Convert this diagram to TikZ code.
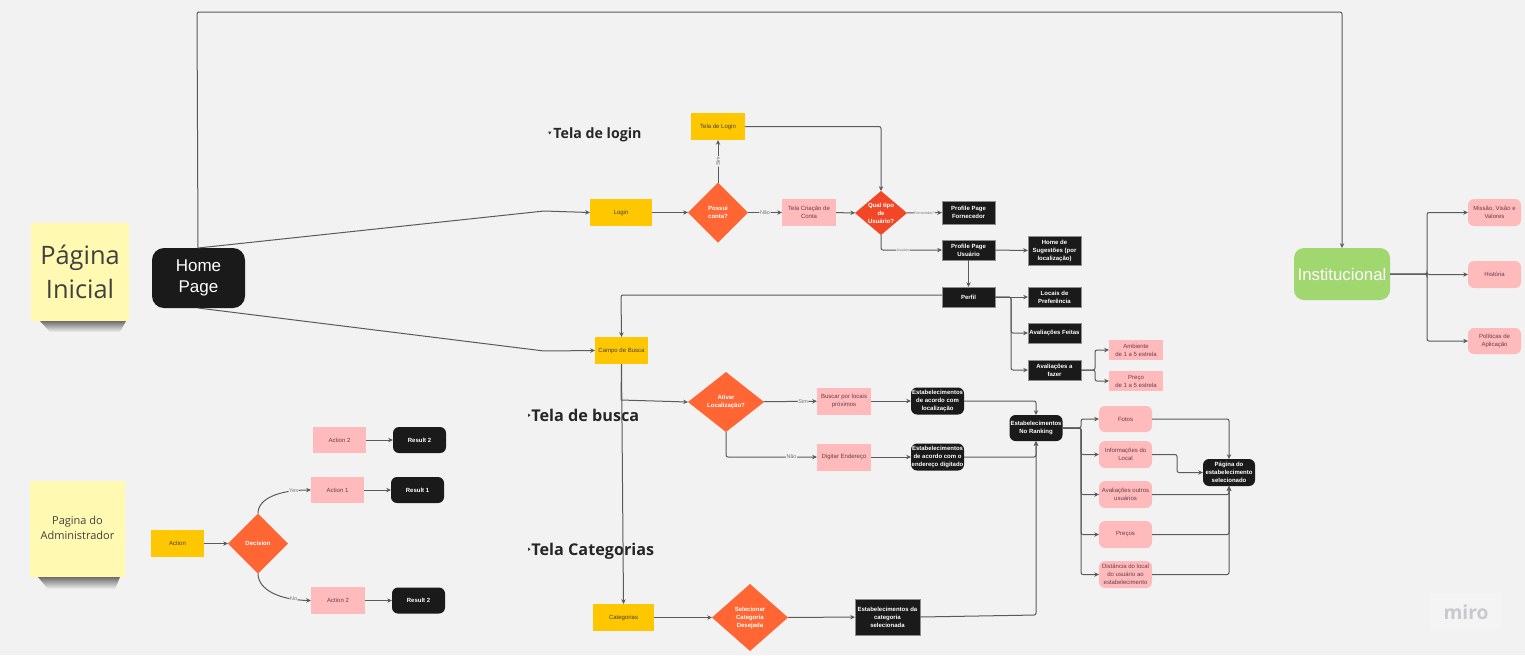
\documentclass[tikz,border=0pt]{standalone}
\usepackage{fontspec}
\setmainfont{Liberation Sans}
\newfontfamily\headfont{Open Sans}
\usetikzlibrary{arrows.meta,shapes.geometric,fadings}
\definecolor{bgc}{HTML}{F2F2F2}
\definecolor{yel}{HTML}{FFC700}
\definecolor{pinkc}{HTML}{FFBBBB}
\definecolor{orangec}{HTML}{FF6633}
\definecolor{redc}{HTML}{F24726}
\definecolor{blk}{HTML}{1A1A1A}
\definecolor{greenc}{HTML}{A1D76F}
\definecolor{stickyc}{HTML}{FFF9B1}
\definecolor{linec}{HTML}{5A5A5A}
\definecolor{pinktext}{HTML}{6B3A4A}
\definecolor{miroc}{HTML}{C8C8CE}
\tikzset{
 x=0.5pt,y=-0.5pt,
 base/.style={inner sep=0pt,outer sep=0pt,align=center,font=\fontsize{3}{4}\selectfont},
 yelbox/.style={base,fill=yel,text=black!75},
 pinkbox/.style={base,fill=pinkc,text=pinktext},
 pinkround/.style={pinkbox,rounded corners=3pt},
 blkbox/.style={base,fill=blk,text=white,draw=black!45,line width=0.3pt},
 blkround/.style={base,fill=blk,text=white,rounded corners=3pt},
 dia/.style={base,diamond,aspect=1,fill=orangec,text=white},
 conn/.style={draw=linec,line width=0.5pt,-{Stealth[length=2.4pt,width=2.2pt]},rounded corners=1pt},
 plain/.style={draw=linec,line width=0.5pt,rounded corners=1pt},
 lbl/.style={fill=bgc,inner sep=0.3pt,font=\fontsize{2.7}{3}\selectfont,text=black!55},
 heading/.style={inner sep=0pt,anchor=west,font=\headfont\bfseries,text=black!85},
 sticky/.style={inner sep=0pt,fill=stickyc,align=center,text=black!75,font=\headfont},
 dim/.style 2 args={minimum width=#1*0.5pt,minimum height=#2*0.5pt},
}
\begin{document}
\begin{tikzpicture}
\useasboundingbox[fill=bgc] (0,0) rectangle (1525,655);
% sticky shadows
\fill[black,opacity=0.55,path fading=south] (40,321) -- (126,321) -- (120,332) -- (50,332) -- cycle;
\fill[black,opacity=0.55,path fading=south] (38,577) -- (120,577) -- (115,589) -- (48,589) -- cycle;
% stickies
\node[sticky,dim={98}{98},font=\headfont\fontsize{12.7}{17}\selectfont] (s1) at (80,272) {Página\\Inicial};
\node[sticky,dim={95}{96},text depth=1pt,font=\headfont\fontsize{5.5}{7.6}\selectfont] (s2) at (77.5,529) {Pagina do\\Administrador};
% headings
\node[heading,font=\headfont\bfseries\fontsize{7.1}{9}\selectfont] (h1) at (553,135) {Tela de login};
\node[heading,font=\headfont\bfseries\fontsize{8.1}{10}\selectfont] (h2) at (531,415) {Tela de busca};
\node[heading,font=\headfont\bfseries\fontsize{8.1}{10}\selectfont] (h3) at (531,551) {Tela Categorias};
\fill[black!80] (548,131.5) -- (551.5,131.5) -- (549.7,134.5) -- cycle;
\fill[black!80] (528,413.5) -- (530.5,415.2) -- (528,417) -- cycle;
\fill[black!80] (528,547.5) -- (530.5,549.2) -- (528,551) -- cycle;
% main nodes
\node[base,fill=blk,text=white,rounded corners=6pt,dim={93}{60},font=\fontsize{8.5}{10.4}\selectfont] (home) at (198.5,278) {Home\\Page};
\node[yelbox,dim={62}{27}] (login) at (621,212.5) {Login};
\node[yelbox,dim={54}{27}] (tlogin) at (718,126.5) {Tela de Login};
\node[dia,minimum width=30pt,minimum height=30pt] (possui) at (718,212.5) {\textbf{Possui}\\\textbf{conta?}};
\node[pinkbox,dim={54}{27}] (criacao) at (809,212.5) {Tela Criação de\\Conta};
\node[dia,fill=redc,minimum width=26pt,minimum height=22pt,aspect=1.18] (qual) at (881,213) {\textbf{Qual tipo}\\\textbf{de}\\\textbf{Usuário?}};
\node[blkbox,dim={53}{23}] (pforn) at (968.5,212.5) {\textbf{Profile Page}\\\textbf{Fornecedor}};
\node[blkbox,dim={53}{20}] (pusu) at (968.5,250) {\textbf{Profile Page}\\\textbf{Usuário}};
\node[blkbox,dim={53}{29}] (sug) at (1054.5,250.5) {\textbf{Home de}\\\textbf{Sugestões (por}\\\textbf{localização)}};
\node[blkbox,dim={53}{20}] (perfil) at (968.5,297) {\textbf{Perfil}};
\node[blkbox,dim={53}{20}] (pref) at (1054.5,297) {\textbf{Locais de}\\\textbf{Preferência}};
\node[blkbox,dim={53}{20}] (feitas) at (1054.5,333) {\textbf{Avaliações Feitas}};
\node[blkbox,dim={53}{20}] (fazer) at (1054.5,370) {\textbf{Avaliações a}\\\textbf{fazer}};
\node[pinkbox,dim={54}{20}] (amb) at (1136,350) {Ambiente\\de 1 a 5 estrela};
\node[pinkbox,dim={54}{20}] (preco) at (1136,381) {Preço\\de 1 a 5 estrela};
\node[yelbox,dim={53}{27}] (busca) at (621.5,350.5) {Campo de Busca};
\node[dia,minimum width=38pt,minimum height=30pt,aspect=1.27] (ativar) at (726,402) {\textbf{Ativar}\\\textbf{Localização?}};
\node[pinkbox,dim={54}{27}] (buscar) at (844,401) {Buscar por locais\\próximos};
\node[pinkbox,dim={54}{27}] (digitar) at (844,457) {Digitar Endereço};
\node[blkround,dim={53}{27}] (e1) at (937.5,401) {\textbf{Estabelecimentos}\\\textbf{de acordo com}\\\textbf{localização}};
\node[blkround,dim={53}{27}] (e2) at (937.5,457) {\textbf{Estabelecimentos}\\\textbf{de acordo com o}\\\textbf{endereço digitado}};
\node[blkround,dim={53}{26}] (rank) at (1036,428) {\textbf{Estabelecimentos}\\\textbf{No Ranking}};
\node[pinkround,dim={53}{26}] (fotos) at (1125.5,419) {Fotos};
\node[pinkround,dim={53}{27}] (info) at (1125.5,454.5) {Informações do\\Local};
\node[pinkround,dim={53}{27}] (aval) at (1125.5,494.5) {Avaliações outros\\usuários};
\node[pinkround,dim={53}{27}] (precos) at (1125.5,534.5) {Preços};
\node[pinkround,dim={53}{27}] (dist) at (1125.5,574.5) {Distância do local\\do usuário ao\\estabelecimento};
\node[blkround,dim={52}{27}] (pag) at (1229,472.5) {\textbf{Página do}\\\textbf{estabelecimento}\\\textbf{selecionado}};
\node[yelbox,dim={61}{27}] (cat) at (623.5,617.5) {Categorias};
\node[dia,minimum width=38pt,minimum height=33.5pt,aspect=1.13] (sel) at (750,617.5) {\textbf{Selecionar}\\\textbf{Categoria}\\\textbf{Desejada}};
\node[blkbox,dim={65}{36}] (ecat) at (887.5,617) {\textbf{Estabelecimentos da}\\\textbf{categoria}\\\textbf{selecionada}};
% institucional
\node[base,fill=greenc,text=white,rounded corners=5pt,dim={96}{52},font=\fontsize{8.4}{10}\selectfont] (inst) at (1342,274) {Institucional};
\node[pinkround,dim={53}{27}] (missao) at (1494.5,212.5) {Missão, Visão e\\Valores};
\node[pinkround,dim={53}{27}] (hist) at (1494.5,274.5) {História};
\node[pinkround,dim={53}{26}] (pol) at (1494.5,341) {Políticas de\\Aplicação};
% template
\node[pinkbox,dim={53}{26}] (a2t) at (339.5,440) {Action 2};
\node[blkround,dim={53}{26}] (r2t) at (419.5,440) {\textbf{Result 2}};
\node[pinkbox,dim={53}{26}] (a1) at (337.5,490) {Action 1};
\node[blkround,dim={53}{26}] (r1) at (417.5,490) {\textbf{Result 1}};
\node[yelbox,dim={53}{27}] (act) at (177.5,543.5) {Action};
\node[dia,minimum width=30pt,minimum height=30pt] (dec) at (258,543.5) {\textbf{Decision}};
\node[pinkbox,dim={54}{27}] (a2) at (338,600.5) {Action 2};
\node[blkround,dim={53}{26}] (r2) at (418.5,600.5) {\textbf{Result 2}};
% free coordinates
\coordinate (t1) at (197,12); \coordinate (t2) at (1342,12);
\coordinate (m1) at (544,211); \coordinate (m2) at (544,351);
% connectors
\draw[conn] (198,248) -- (t1) -- (t2) -- (inst.north);
\draw[conn] (198,248) -- (m1) -- (login.west);
\draw[conn] (198,308) -- (m2) -- (busca.west);
\draw[conn] (login) -- (possui);
\draw[conn] (possui) -- node[lbl,rotate=90]{Sim} (tlogin);
\draw[conn] (possui) -- node[lbl,pos=0.5]{Não} (criacao);
\draw[conn] (tlogin.east) -| (qual.north);
\draw[conn] (criacao) -- (qual);
\draw[conn] (qual) -- node[lbl,pos=0.5,font=\fontsize{1.8}{2}\selectfont]{Fornecedor?} (pforn);
\draw[conn] (qual.south) |- node[lbl,pos=0.68,font=\fontsize{1.8}{2}\selectfont]{Usuário} (pusu.west);
\draw[conn] (pusu) -- (sug);
\draw[conn] (pusu) -- (perfil);
\draw[conn] (perfil) -- (pref);
\draw[conn] (perfil.east) -- (1011,297) |- (feitas.west);
\draw[conn] (perfil.east) -- (1011,297) |- (fazer.west);
\draw[conn] (fazer.east) -- (1095,370) |- (amb.west);
\draw[conn] (fazer.east) -- (1095,370) |- (preco.west);
\draw[conn] (942,295) -- (621,295) -- (busca.north);
\draw[plain] (busca.south) -- (621,400);
\draw[conn] (621,400) -- (ativar.west);
\draw[conn] (busca.south) -- (cat.north);
\draw[conn] (ativar) -- node[lbl,pos=0.74]{Sim} (buscar);
\draw[conn] (ativar.south) |- node[lbl,pos=0.86]{Não} (digitar.west);
\draw[conn] (buscar) -- (e1);
\draw[conn] (digitar) -- (e2);
\draw[conn] (e1.east) -| (rank.north);
\draw[conn] (e2.east) -| (rank.south);
\draw[conn] (cat) -- (sel);
\draw[conn] (sel) -- (ecat);
\draw[conn] (ecat.east) -- (1036,615) -- (rank.south);
\foreach \n in {fotos,info,aval,precos,dist}{
 \draw[conn] (rank.east) -- (1081,428) |- (\n.west);
}
\draw[conn] (fotos.east) -| (pag.north);
\draw[conn] (info.east) -- (1177,454.5) -- (1177,472.5) -- (pag.west);
\draw[conn] (aval.east) -| (pag.south);
\draw[conn] (precos.east) -| (pag.south);
\draw[conn] (dist.east) -| (pag.south);
\foreach \n in {missao,hist,pol}{
 \draw[conn] (inst.east) -- (1427,274) |- (\n.west);
}
\draw[conn] (act) -- (dec);
\draw[conn] (dec.north) .. controls (258,498) and (280,490) .. node[lbl,pos=0.8]{Yes} (a1.west);
\draw[conn] (dec.south) .. controls (258,590) and (280,600) .. node[lbl,pos=0.8]{No} (a2.west);
\draw[conn] (a1) -- (r1);
\draw[conn] (a2) -- (r2);
\draw[conn] (a2t) -- (r2t);
% miro watermark
\fill[white,opacity=0.2] (1430,593) rectangle (1502,630);
\node[inner sep=0pt,text=miroc,font=\headfont\bfseries\fontsize{9.6}{11}\selectfont] (miro) at (1466,612) {miro};
\end{tikzpicture}
\end{document}
